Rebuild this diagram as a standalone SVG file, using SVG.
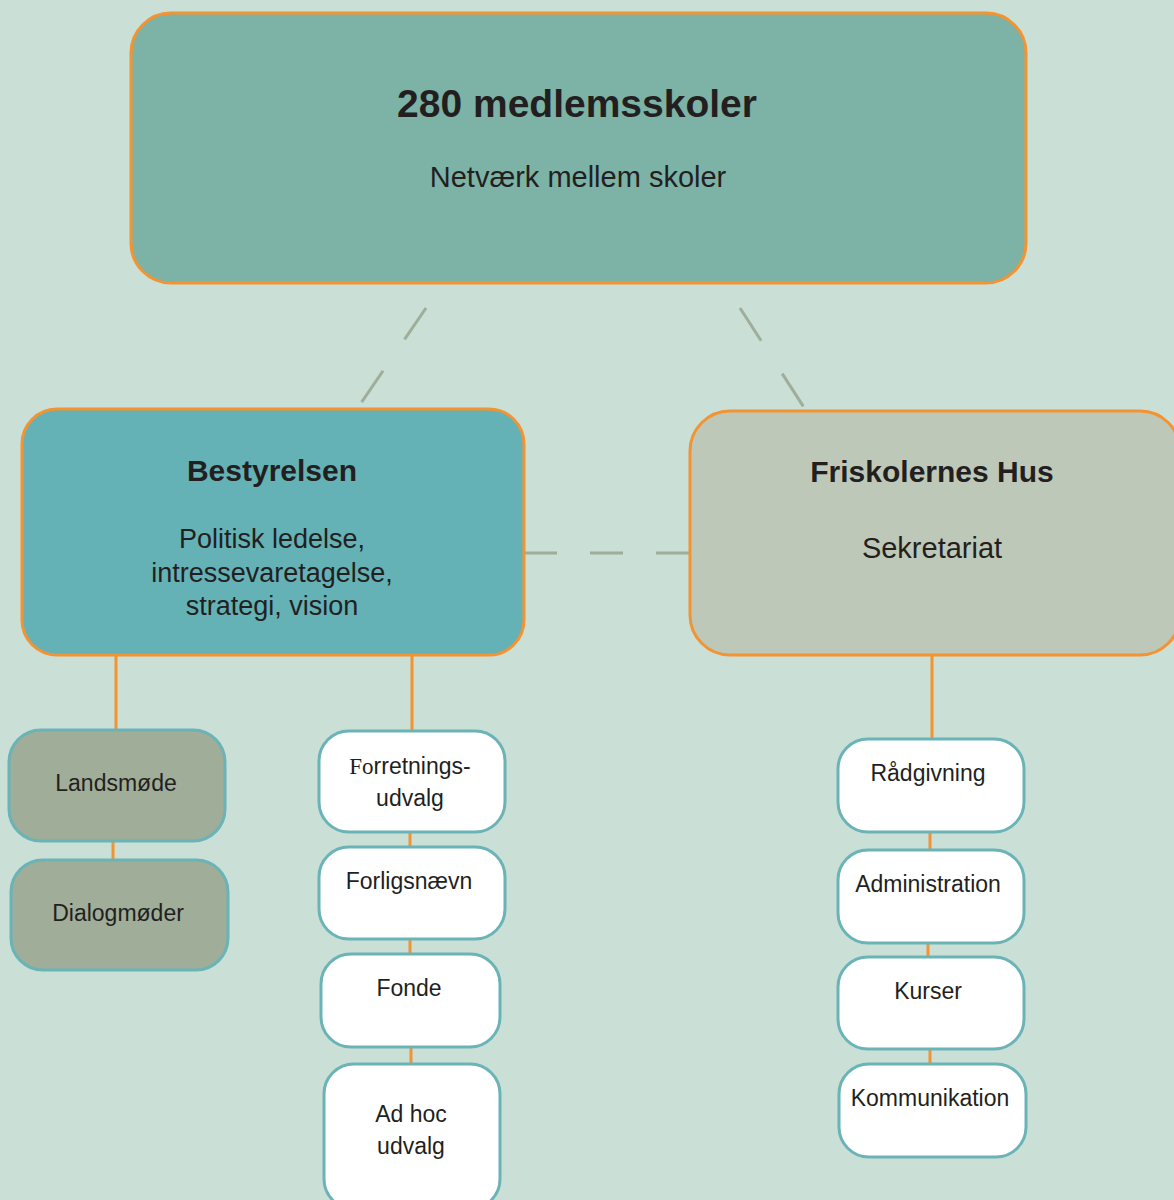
<svg xmlns="http://www.w3.org/2000/svg" width="1174" height="1200" viewBox="0 0 1174 1200">
<style>
.main{stroke:#f39331;stroke-width:3}
.sub{stroke:#6ab3b6;stroke-width:3}
.dash{stroke:#9fae98;stroke-width:3;fill:none}
.link{stroke:#f39331;stroke-width:3;fill:none}
text{font-family:"Liberation Sans",Arial,sans-serif;fill:#231f20;text-anchor:middle}
.t{font-weight:bold}
.s{font-size:23px}
</style>
<rect width="1174" height="1200" fill="#cadfd6"/>
<g id="connectors">
<path class="dash" d="M426 308 L361 403" stroke-dasharray="38 38"/>
<path class="dash" d="M740 308 L805 409" stroke-dasharray="39 39"/>
<path class="dash" d="M524 553 H690" stroke-dasharray="33 33"/>
<path class="link" d="M116 655 V730 M412 655 V731 M932 655 V739 M113 840 V860 M410 831 V847 M410 938 V954 M411 1046 V1064 M930 831 V850 M928 942 V957 M930 1048 V1064"/>
</g>
<g id="top">
<rect class="main" x="131" y="13" width="895" height="270" rx="40" fill="#7cb3a6"/>
<text class="t" x="577" y="117" font-size="39">280 medlemsskoler</text>
<text x="578" y="187" font-size="29">Netværk mellem skoler</text>
</g>
<g id="bestyrelsen">
<rect class="main" x="22" y="409" width="502" height="246" rx="35" fill="#64b2b6"/>
<text class="t" x="272" y="481" font-size="30">Bestyrelsen</text>
<text x="272" y="548" font-size="27">Politisk ledelse,</text>
<text x="272" y="582" font-size="27">intressevaretagelse,</text>
<text x="272" y="615" font-size="27">strategi, vision</text>
</g>
<g id="friskolernes">
<rect class="main" x="690" y="411" width="490" height="244" rx="40" fill="#bec8b8"/>
<text class="t" x="932" y="482" font-size="30">Friskolernes Hus</text>
<text x="932" y="558" font-size="29">Sekretariat</text>
</g>
<g id="landsmoede">
<rect class="sub" x="9" y="730" width="216" height="111" rx="32" fill="#a0ad99"/>
<text class="s" x="116" y="791">Landsmøde</text>
</g>
<g id="dialogmoeder">
<rect class="sub" x="11" y="860" width="217" height="110" rx="32" fill="#a0ad99"/>
<text class="s" x="118" y="921">Dialogmøder</text>
</g>
<g id="forretningsudvalg">
<rect class="sub" x="319" y="731" width="186" height="101" rx="30" fill="#fff"/>
<text class="s" x="410" y="774"><tspan font-family="Liberation Serif,serif">Fo</tspan>rretnings-</text>
<text class="s" x="410" y="806">udvalg</text>
</g>
<g id="forligsnaevn">
<rect class="sub" x="319" y="847" width="186" height="92" rx="30" fill="#fff"/>
<text class="s" x="409" y="889">Forligsnævn</text>
</g>
<g id="fonde">
<rect class="sub" x="321" y="954" width="179" height="93" rx="30" fill="#fff"/>
<text class="s" x="409" y="996">Fonde</text>
</g>
<g id="adhoc">
<rect class="sub" x="324" y="1064" width="176" height="145" rx="30" fill="#fff"/>
<text class="s" x="411" y="1122">Ad hoc</text>
<text class="s" x="411" y="1154">udvalg</text>
</g>
<g id="raadgivning">
<rect class="sub" x="838" y="739" width="186" height="93" rx="30" fill="#fff"/>
<text class="s" x="928" y="781">Rådgivning</text>
</g>
<g id="administration">
<rect class="sub" x="838" y="850" width="186" height="93" rx="30" fill="#fff"/>
<text class="s" x="928" y="892">Administration</text>
</g>
<g id="kurser">
<rect class="sub" x="838" y="957" width="186" height="92" rx="30" fill="#fff"/>
<text class="s" x="928" y="999">Kurser</text>
</g>
<g id="kommunikation">
<rect class="sub" x="839" y="1064" width="187" height="93" rx="30" fill="#fff"/>
<text class="s" x="930" y="1106">Kommunikation</text>
</g>
</svg>
